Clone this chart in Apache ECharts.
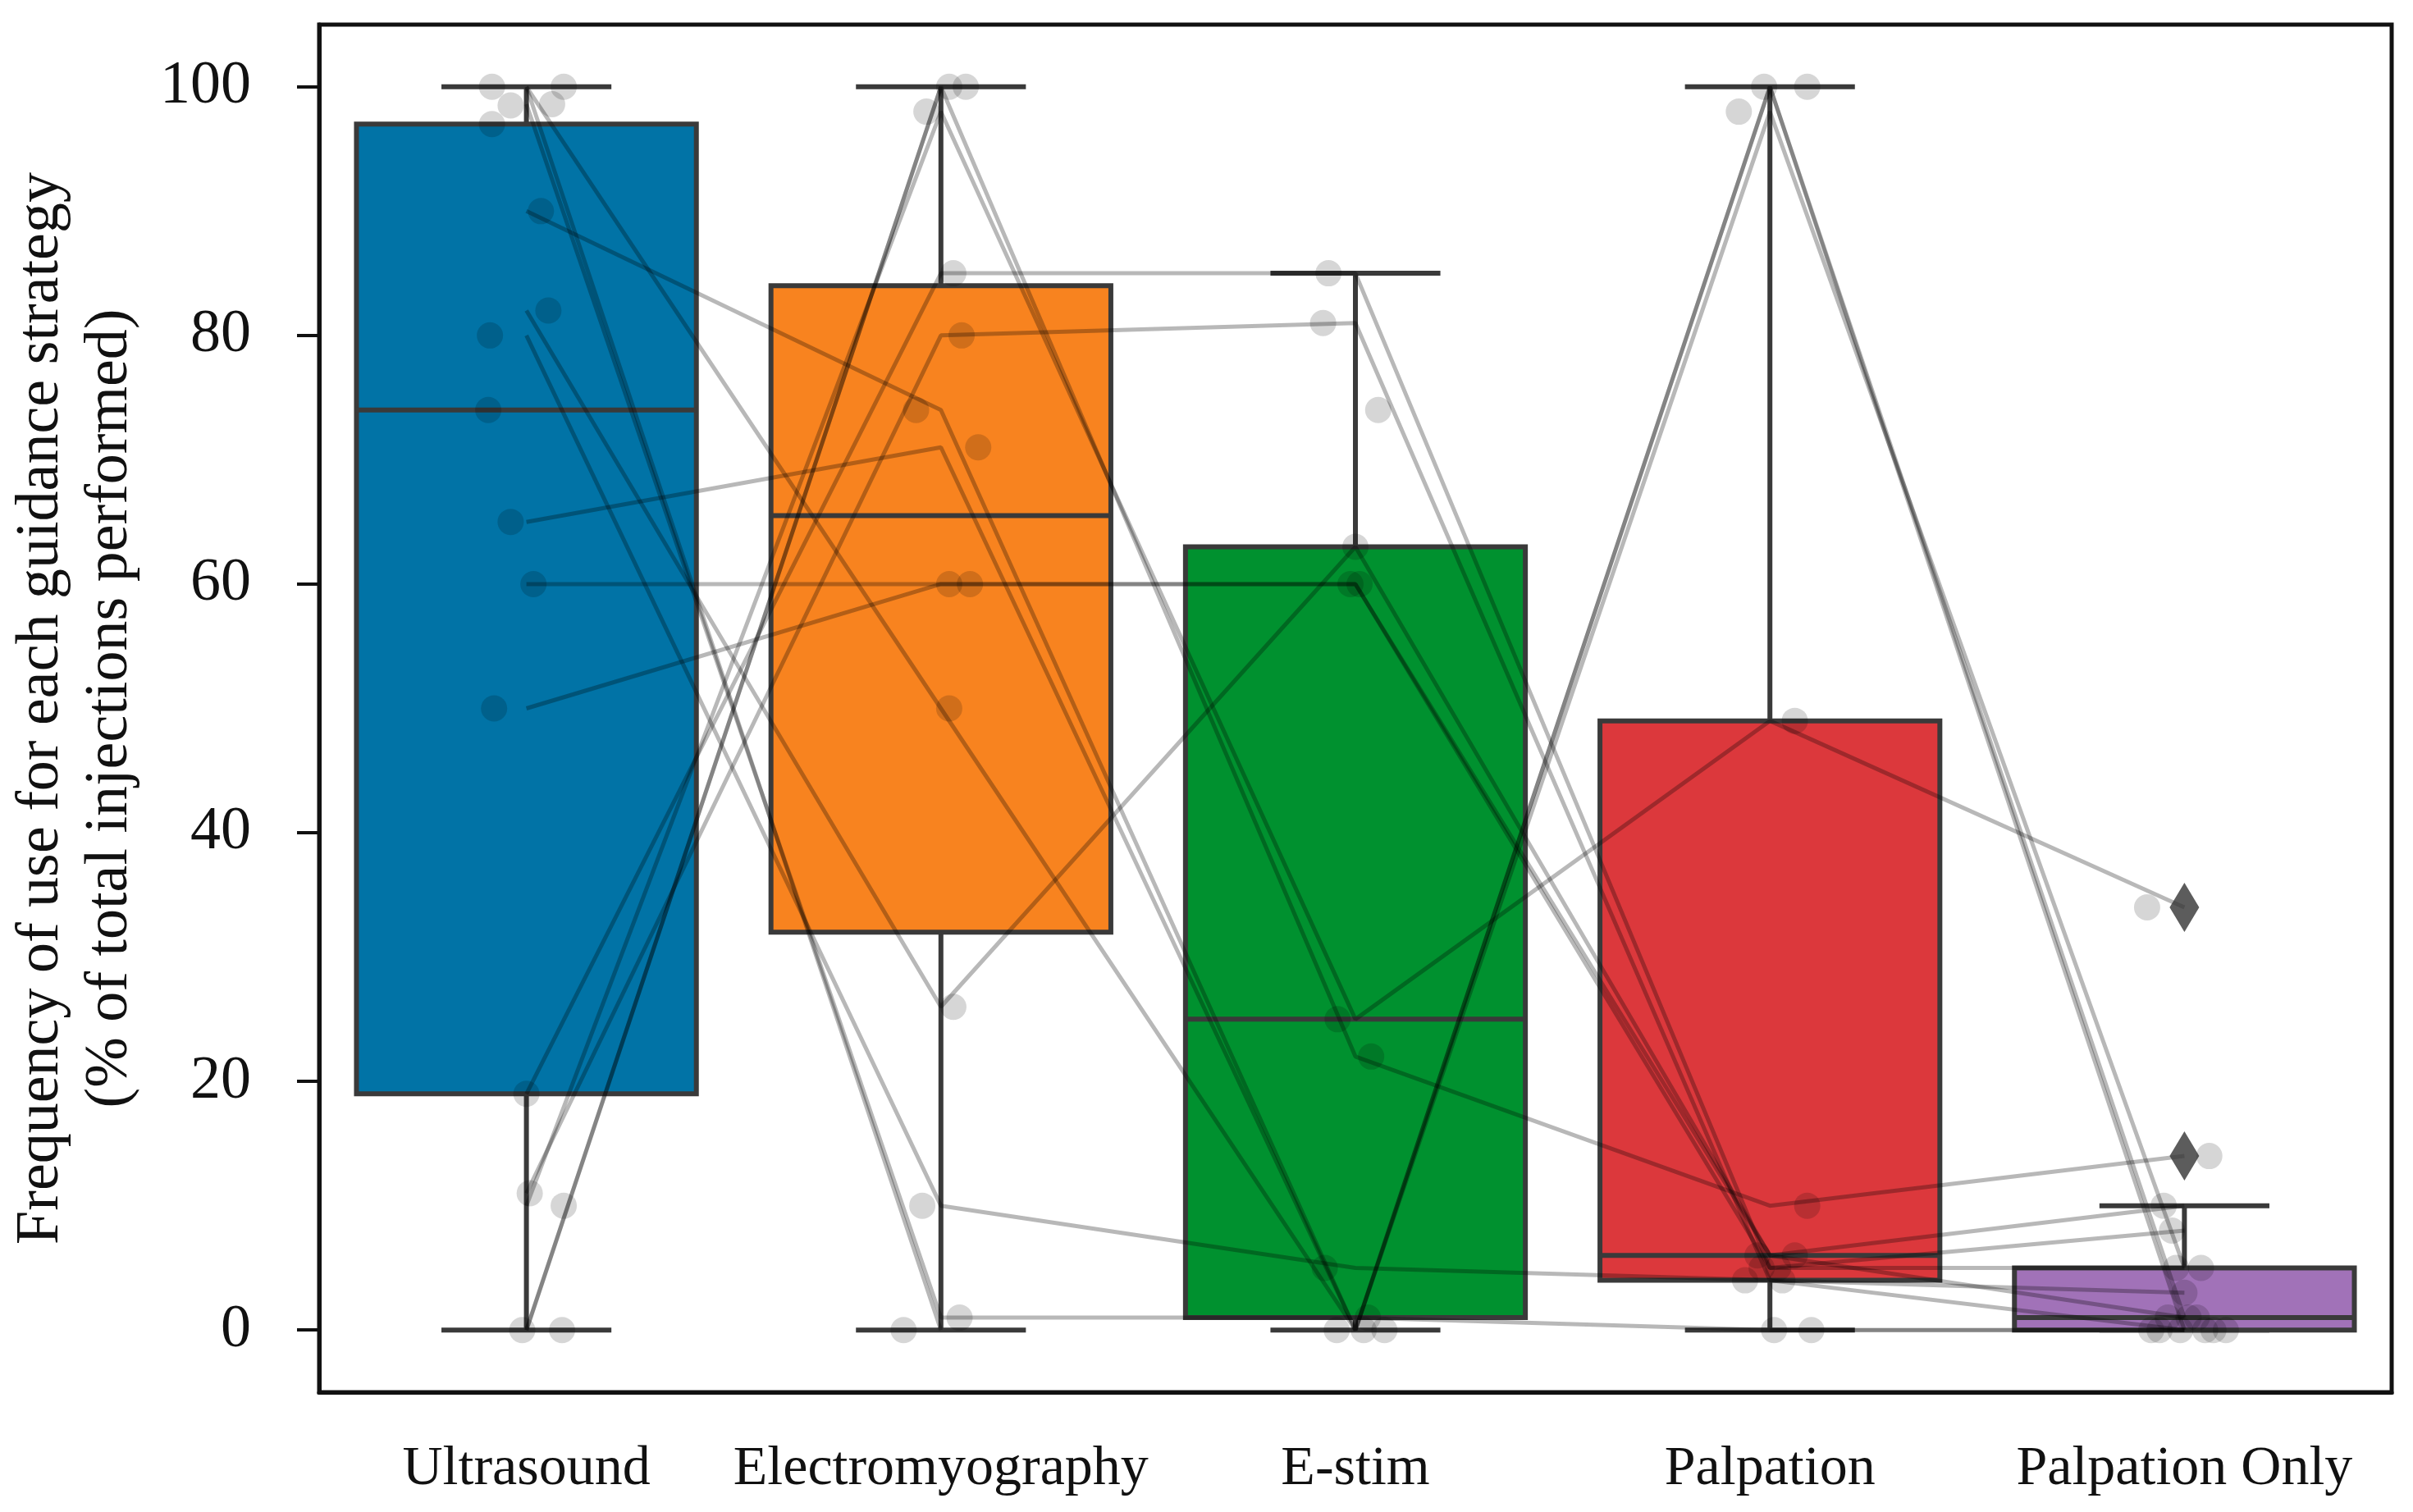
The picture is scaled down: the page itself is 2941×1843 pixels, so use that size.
<!DOCTYPE html>
<html>
<head>
<meta charset="utf-8">
<script src="https://cdn.jsdelivr.net/npm/echarts@6.0.0/dist/echarts.min.js"></script>
<style>
  html, body { margin: 0; padding: 0; background: #fff; }
  #chart { width: 2941px; height: 1843px; }
</style>
</head>
<body>
<div id="chart"></div>
<script>
var categories = ['Ultrasound', 'Electromyography', 'E-stim', 'Palpation', 'Palpation Only'];
var yTicks = [0, 20, 40, 60, 80, 100];

// box summaries
var boxMin = [0, 0, 0, 0, 0];
var boxQ1 = [19, 32, 1, 4, 0];
var boxMedian = [74, 65.5, 25, 6, 1];
var boxQ3 = [97, 84, 63, 49, 5];
var boxMax = [100, 100, 85, 100, 10];
var outlierCat = [4, 4];
var outlierValues = [34, 14];

// one entry per participant (null = no answer)
var ultrasound       = [100, 100, 90, 65, 60, 50, 82, 80, 19, 0, 11, 10, 0, 98.6, 97, 98.5, 74];
var electromyography = [0, 50, 74, 71, 60, 60, 26, 10, 85, 100, 80, 98, 100, 1, null, null, null];
var eStim            = [null, 0, 0, 0, 60, 60, 63, 5, 85, 22, 81, 25, null, 1, null, null, 74];
var palpation        = [0, 98, 100, 100, 6, 5, 6, 4, 5, 10, 4, 49, null, 0, null, null, null];
var palpationOnly    = [0, 5, 0, 1, 1, 8, 10, 0, 5, 14, 3, 34, 0, 0, 0, 1, null];

// strip jitter (in category units)
var jitterUS    = [0.09, -0.083, 0.035, -0.038, 0.017, -0.078, 0.053, -0.088, 0.0, -0.01, 0.008, 0.09, 0.086, 0.062, -0.083, -0.038, -0.092];
var jitterEMG   = [-0.09, 0.02, -0.06, 0.09, 0.02, 0.07, 0.03, -0.045, 0.03, 0.02, 0.05, -0.035, 0.06, 0.045, 0, 0, 0];
var jitterEstim = [0, 0.07, -0.045, 0.02, -0.012, 0.01, 0, -0.074, -0.065, 0.038, -0.078, -0.043, 0, 0.03, 0, 0, 0.055];
var jitterPalp  = [0.01, -0.075, -0.014, 0.09, 0.06, -0.02, -0.03, -0.06, 0.02, 0.09, 0.03, 0.06, 0, 0.1, 0, 0, 0];
var jitterPO    = [-0.08, 0.04, -0.01, 0.03, -0.04, -0.03, -0.05, 0.05, -0.02, 0.06, 0, -0.09, 0.1, 0.07, -0.06, 0.01, 0];

var boxColors = ['#0173a6', '#f8831f', '#00912f', '#dc383c', '#a172b8'];
var edge = '#3a3a3a';
var font = 'Liberation Serif';

var columns = [ultrasound, electromyography, eStim, palpation, palpationOnly];
var jitters = [jitterUS, jitterEMG, jitterEstim, jitterPalp, jitterPO];

var boxData = categories.map(function (c, i) {
    return [i, boxMin[i], boxQ1[i], boxMedian[i], boxQ3[i], boxMax[i]];
});

var points = [];
var series = [];

series.push({
    type: 'custom',
    xAxisIndex: 0,
    yAxisIndex: 0,
    z: 1,
    silent: true,
    data: boxData,
    renderItem: function (params, api) {
        var i = api.value(0);
        var lo = api.coord([i, api.value(1)]);
        var q1 = api.coord([i, api.value(2)]);
        var md = api.coord([i, api.value(3)]);
        var q3 = api.coord([i, api.value(4)]);
        var hi = api.coord([i, api.value(5)]);
        var band = api.size([1, 0])[0];
        var bw = band * 0.82, cw = bw / 2, cx = q1[0];
        var ls = { stroke: edge, lineWidth: 6 };
        return {
            type: 'group',
            children: [
                { type: 'line', shape: { x1: cx, y1: hi[1], x2: cx, y2: q3[1] }, style: ls },
                { type: 'line', shape: { x1: cx, y1: q1[1], x2: cx, y2: lo[1] }, style: ls },
                { type: 'line', shape: { x1: cx - cw / 2, y1: hi[1], x2: cx + cw / 2, y2: hi[1] }, style: ls },
                { type: 'line', shape: { x1: cx - cw / 2, y1: lo[1], x2: cx + cw / 2, y2: lo[1] }, style: ls },
                { type: 'rect', shape: { x: cx - bw / 2, y: q3[1], width: bw, height: q1[1] - q3[1] },
                  style: { fill: boxColors[params.dataIndex], stroke: edge, lineWidth: 6 } },
                { type: 'line', shape: { x1: cx - bw / 2, y1: md[1], x2: cx + bw / 2, y2: md[1] }, style: ls }
            ]
        };
    }
});

// participant lines
for (var p = 0; p < ultrasound.length; p++) {
    var row = columns.map(function (col, c) {
        return [c, col[p] === null ? '-' : col[p]];
    });
    series.push({
        type: 'line',
        xAxisIndex: 1,
        yAxisIndex: 0,
        z: 3,
        silent: true,
        symbol: 'none',
        connectNulls: false,
        data: row,
        lineStyle: { color: 'rgba(0,0,0,0.28)', width: 5 }
    });
    columns.forEach(function (col, c) {
        if (col[p] !== null) points.push([c + jitters[c][p], col[p]]);
    });
}

series.push({
    type: 'scatter',
    xAxisIndex: 1,
    yAxisIndex: 0,
    z: 4,
    silent: true,
    symbolSize: 32,
    itemStyle: { color: 'rgba(0,0,0,0.2)' },
    data: points
});

series.push({
    type: 'scatter',
    xAxisIndex: 0,
    yAxisIndex: 0,
    z: 5,
    silent: true,
    symbol: 'diamond',
    symbolSize: [36, 60],
    itemStyle: { color: '#333' },
    data: outlierCat.map(function (c, i) { return [c, outlierValues[i]]; })
});

var chart = echarts.init(document.getElementById('chart'));
chart.setOption({
    animation: false,
    backgroundColor: '#fff',
    grid: {
        left: 389, right: 26, top: 30, bottom: 146,
        show: true, borderColor: '#111', borderWidth: 5
    },
    xAxis: [{
        type: 'category',
        data: categories,
        boundaryGap: true,
        axisLine: { onZero: false, lineStyle: { color: '#111', width: 5 } },
        axisTick: { alignWithLabel: true, length: 27, lineStyle: { color: '#111', width: 4 } },
        axisLabel: { interval: 0, color: '#111', fontFamily: font, fontSize: 68, margin: 60 },
        splitLine: { show: false }
    }, {
        type: 'value',
        min: -0.5,
        max: 4.5,
        show: false,
        axisLine: { show: false, onZero: false }
    }],
    yAxis: {
        type: 'value',
        min: -5,
        max: 105,
        name: 'Frequency of use for each guidance strategy\n(% of total injections performed)',
        nameLocation: 'middle',
        nameGap: 212,
        nameRotate: 90,
        nameTextStyle: { color: '#111', fontFamily: font, fontSize: 74, lineHeight: 84 },
        axisLine: { show: true, onZero: false, lineStyle: { color: '#111', width: 5 } },
        axisTick: { show: true, length: 27, customValues: yTicks, lineStyle: { color: '#111', width: 4 } },
        axisLabel: { customValues: yTicks, color: '#111', fontFamily: font, fontSize: 74, margin: 83 },
        splitLine: { show: false }
    },
    series: series
});

window.addEventListener('resize', function () {
    chart.resize();
});
</script>
</body>
</html>
